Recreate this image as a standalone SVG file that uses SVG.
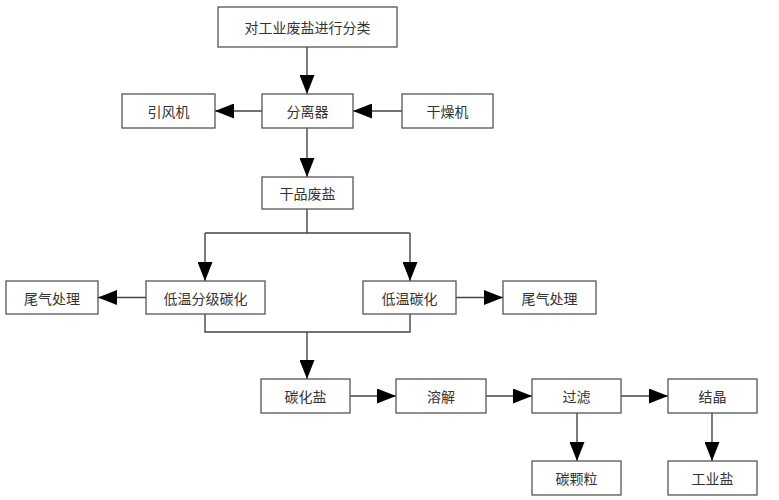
<svg xmlns="http://www.w3.org/2000/svg" width="779" height="500" viewBox="0 0 779 500">
<style>
.box{fill:#fff;stroke:#555;stroke-width:1.3}
.t{font-family:"Noto Sans CJK SC","Noto Sans",sans-serif;font-size:14px;fill:#333;text-anchor:middle;dominant-baseline:central}
.c{fill:none;stroke:#444;stroke-width:1.4}
</style>
<defs>
<marker id="ah" markerUnits="userSpaceOnUse" markerWidth="19" markerHeight="15" refX="19" refY="7.5" orient="auto">
<path d="M0,0 L19,7.5 L0,15 Z" fill="#000"/>
</marker>
</defs>
<rect width="779" height="500" fill="#fff"/>
<g id="connectors">
<path class="c" d="M307,47 V94" marker-end="url(#ah)"/>
<path class="c" d="M262,111 H215" marker-end="url(#ah)"/>
<path class="c" d="M402,111 H353" marker-end="url(#ah)"/>
<path class="c" d="M307,128 V177" marker-end="url(#ah)"/>
<path class="c" d="M307,209 V233 M205,233 H410"/>
<path class="c" d="M205,233 V281" marker-end="url(#ah)"/>
<path class="c" d="M410,233 V281" marker-end="url(#ah)"/>
<path class="c" d="M146,297.5 H98" marker-end="url(#ah)"/>
<path class="c" d="M456,297.5 H503" marker-end="url(#ah)"/>
<path class="c" d="M205,314 V332 H410 V314"/>
<path class="c" d="M307,332 V379" marker-end="url(#ah)"/>
<path class="c" d="M350,396 H396" marker-end="url(#ah)"/>
<path class="c" d="M486,396 H532" marker-end="url(#ah)"/>
<path class="c" d="M621,396 H668" marker-end="url(#ah)"/>
<path class="c" d="M577,413 V461" marker-end="url(#ah)"/>
<path class="c" d="M712,413 V461" marker-end="url(#ah)"/>
</g>
<g id="n1"><rect class="box" x="218" y="7" width="179" height="40"/><text class="t" x="307.5" y="27">对工业废盐进行分类</text></g>
<g id="n2"><rect class="box" x="262" y="94" width="91" height="34"/><text class="t" x="307.5" y="111">分离器</text></g>
<g id="n3"><rect class="box" x="122" y="94" width="93" height="34"/><text class="t" x="168.5" y="111">引风机</text></g>
<g id="n4"><rect class="box" x="402" y="94" width="91" height="34"/><text class="t" x="447.5" y="111">干燥机</text></g>
<g id="n5"><rect class="box" x="262" y="177" width="91" height="32"/><text class="t" x="307.5" y="193">干品废盐</text></g>
<g id="n6"><rect class="box" x="146" y="281" width="119" height="33"/><text class="t" x="205.5" y="297.5">低温分级碳化</text></g>
<g id="n7"><rect class="box" x="6" y="281" width="92" height="33"/><text class="t" x="52" y="297.5">尾气处理</text></g>
<g id="n8"><rect class="box" x="363" y="281" width="93" height="33"/><text class="t" x="409.5" y="297.5">低温碳化</text></g>
<g id="n9"><rect class="box" x="503" y="281" width="93" height="33"/><text class="t" x="549.5" y="297.5">尾气处理</text></g>
<g id="n10"><rect class="box" x="261" y="379" width="89" height="34"/><text class="t" x="305.5" y="396">碳化盐</text></g>
<g id="n11"><rect class="box" x="396" y="379" width="90" height="34"/><text class="t" x="441" y="396">溶解</text></g>
<g id="n12"><rect class="box" x="532" y="379" width="89" height="34"/><text class="t" x="576.5" y="396">过滤</text></g>
<g id="n13"><rect class="box" x="668" y="379" width="89" height="34"/><text class="t" x="712.5" y="396">结晶</text></g>
<g id="n14"><rect class="box" x="532" y="461" width="89" height="34"/><text class="t" x="576.5" y="478">碳颗粒</text></g>
<g id="n15"><rect class="box" x="668" y="461" width="89" height="34"/><text class="t" x="712.5" y="478">工业盐</text></g>
</svg>
